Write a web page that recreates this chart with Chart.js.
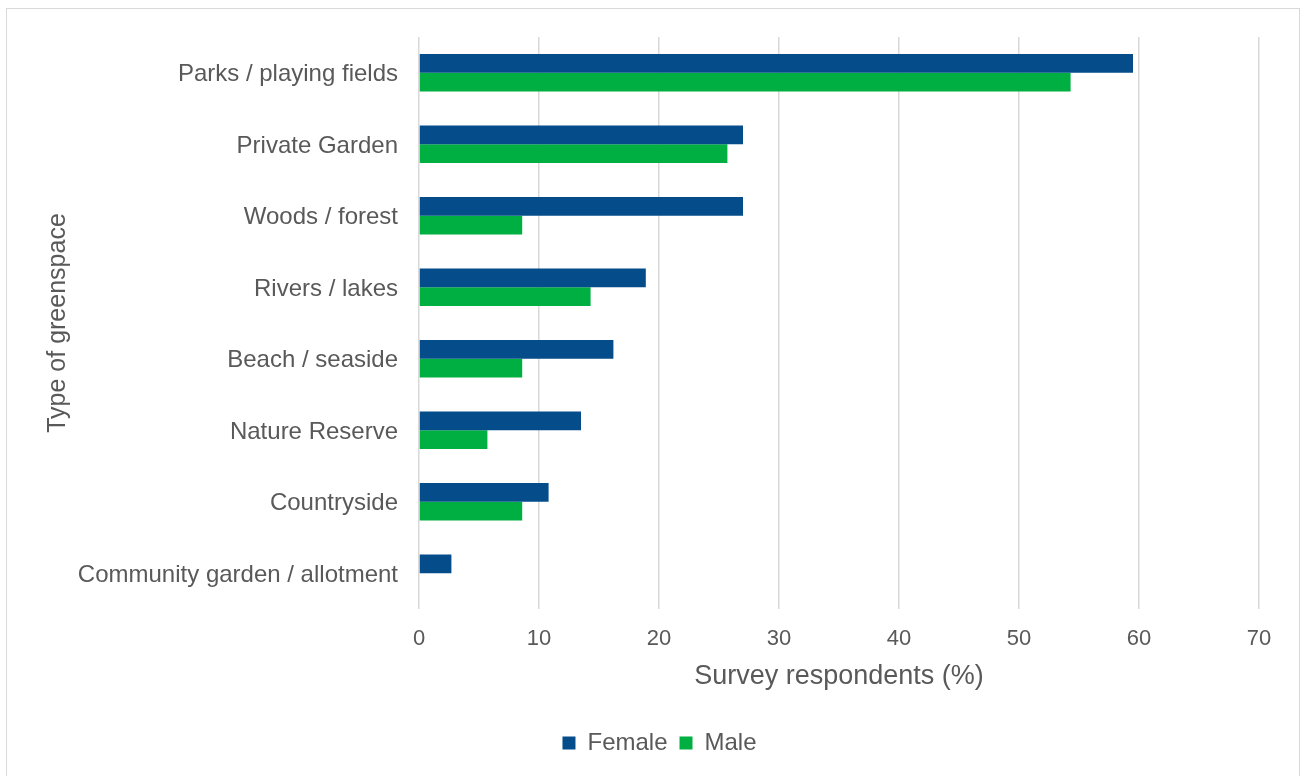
<!DOCTYPE html>
<html>
<head>
<meta charset="utf-8">
<title>Greenspace use by gender</title>
<script src="https://cdn.jsdelivr.net/npm/chart.js@4"></script>
<style>
  html, body { margin: 0; padding: 0; background: #fff; overflow: hidden; }
  #frame {
    position: absolute; left: 6px; top: 8px;
    width: 1292px; height: 800px;
    border: 1px solid #d9d9d9;
  }
  #wrap { position: absolute; left: 0; top: 0; width: 1302px; height: 776px; }
</style>
</head>
<body>
<div id="frame"></div>
<div id="wrap"><canvas id="greenspace-chart" width="1302" height="776"></canvas></div>
<script>
// Anteil der Befragten je Grünflächentyp (%)
const categories = [
    'Parks / playing fields',
    'Private Garden',
    'Woods / forest',
    'Rivers / lakes',
    'Beach / seaside',
    'Nature Reserve',
    'Countryside',
    'Community garden / allotment'
];
const female = [59.5, 27.0, 27.0, 18.9, 16.2, 13.5, 10.8, 2.7];
const male = [54.3, 25.7, 8.6, 14.3, 8.6, 5.7, 8.6, 0];
const xTicks = [0, 10, 20, 30, 40, 50, 60, 70];

const textColor = '#595959';
const fontFamily = "'Liberation Sans', Arial, sans-serif";

// Legende unter dem Diagramm etwas nach rechts schieben (mittig zur Seite)
const legendShift = {
    id: 'legendShift',
    afterLayout(chart) {
        const lg = chart.legend;
        if (!lg) return;
        lg.left += 30;
        lg.right += 30;
    }
};

new Chart(document.getElementById('greenspace-chart'), {
    type: 'bar',
    data: {
        labels: categories,
        datasets: [{
            label: 'Female',
            data: female,
            backgroundColor: '#054d8a',
            borderWidth: 0
        }, {
            label: 'Male',
            data: male,
            backgroundColor: '#00af41',
            borderWidth: 0
        }]
    },
    plugins: [legendShift],
    options: {
        indexAxis: 'y',
        responsive: false,
        animation: false,
        devicePixelRatio: 1,
        categoryPercentage: 0.523,
        barPercentage: 1,
        layout: {
            padding: { left: 0, top: 37, right: 43, bottom: 11 }
        },
        plugins: {
            tooltip: { enabled: false },
            legend: {
                position: 'bottom',
                labels: {
                    boxWidth: 13,
                    boxHeight: 13,
                    padding: 12,
                    color: textColor,
                    font: { family: fontFamily, size: 24 }
                }
            }
        },
        scales: {
            x: {
                min: 0,
                max: 70,
                afterBuildTicks: scale => {
                    scale.ticks = xTicks.map(v => ({ value: v }));
                },
                afterFit: scale => { scale.height = 110; },
                border: { display: false },
                grid: { color: '#d9d9d9', lineWidth: 1.5, drawTicks: false },
                ticks: {
                    padding: 17,
                    color: textColor,
                    font: { family: fontFamily, size: 22 }
                },
                title: {
                    display: true,
                    text: 'Survey respondents (%)',
                    color: textColor,
                    font: { family: fontFamily, size: 27 },
                    padding: { top: 0, bottom: 26 }
                }
            },
            y: {
                afterFit: scale => { scale.width = 419; },
                border: { display: false },
                grid: { display: false, drawTicks: false },
                ticks: {
                    padding: 21,
                    labelOffset: 2,
                    color: textColor,
                    font: { family: fontFamily, size: 24 }
                },
                title: {
                    display: true,
                    text: 'Type of greenspace',
                    color: textColor,
                    font: { family: fontFamily, size: 25 },
                    padding: { top: 43, bottom: 0 }
                }
            }
        }
    }
});
</script>
</body>
</html>
